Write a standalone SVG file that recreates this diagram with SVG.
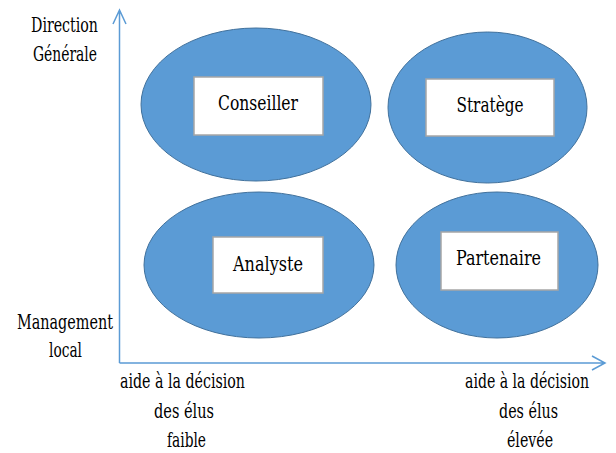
<svg xmlns="http://www.w3.org/2000/svg" width="616" height="453" viewBox="0 0 616 453">
<style>
.ell{fill:#5B9BD5;stroke:#41719C;stroke-width:1}
.box{fill:#FFFFFF;stroke:#A6A6A6;stroke-width:1.5}
.ax{fill:none;stroke:#5B9BD5;stroke-width:1.5}
</style>
<rect width="616" height="453" fill="#FFFFFF"/>
<g id="connectors">
<path class="ax" d="M119.5,363 V10 M113,24 L119.5,10 L126,24"/>
<path class="ax" d="M119.5,363 H605 M592,356 L605,363 L592,370"/>
</g>
<g font-family="DejaVu Serif Condensed, DejaVu Serif, serif" font-size="21" text-anchor="middle" fill="#000">
<g id="conseiller">
<ellipse class="ell" cx="256" cy="104.5" rx="115" ry="76.5"/>
<rect class="box" x="194" y="77" width="129" height="58"/>
<text x="258" y="110" textLength="80" lengthAdjust="spacingAndGlyphs">Conseiller</text>
</g>
<g id="stratege">
<ellipse class="ell" cx="487.5" cy="107.5" rx="99.5" ry="75.5"/>
<rect class="box" x="426" y="79" width="128" height="57"/>
<text x="490" y="112" textLength="67" lengthAdjust="spacingAndGlyphs">Stratège</text>
</g>
<g id="analyste">
<ellipse class="ell" cx="259" cy="265" rx="115" ry="73"/>
<rect class="box" x="213" y="237" width="110" height="56"/>
<text x="268" y="271" textLength="70" lengthAdjust="spacingAndGlyphs">Analyste</text>
</g>
<g id="partenaire">
<ellipse class="ell" cx="497" cy="265" rx="101" ry="73"/>
<rect class="box" x="441" y="232" width="117" height="58"/>
<text x="498.5" y="265" textLength="85" lengthAdjust="spacingAndGlyphs">Partenaire</text>
</g>
</g>
<g id="labels" font-family="DejaVu Serif Condensed, DejaVu Serif, serif" font-size="20" text-anchor="middle" fill="#000">
<text x="64.5" y="32" textLength="67" lengthAdjust="spacingAndGlyphs">Direction</text>
<text x="65" y="61" textLength="64" lengthAdjust="spacingAndGlyphs">Générale</text>
<text x="65" y="329" textLength="96" lengthAdjust="spacingAndGlyphs">Management</text>
<text x="65.5" y="357" textLength="33" lengthAdjust="spacingAndGlyphs">local</text>
<text x="182.5" y="388" textLength="125" lengthAdjust="spacingAndGlyphs">aide à la décision</text>
<text x="184" y="418" textLength="60" lengthAdjust="spacingAndGlyphs">des élus</text>
<text x="186.5" y="447" textLength="39" lengthAdjust="spacingAndGlyphs">faible</text>
<text x="527" y="388" textLength="124" lengthAdjust="spacingAndGlyphs">aide à la décision</text>
<text x="528.5" y="418" textLength="59" lengthAdjust="spacingAndGlyphs">des élus</text>
<text x="530" y="447" textLength="46" lengthAdjust="spacingAndGlyphs">élevée</text>
</g>
</svg>
